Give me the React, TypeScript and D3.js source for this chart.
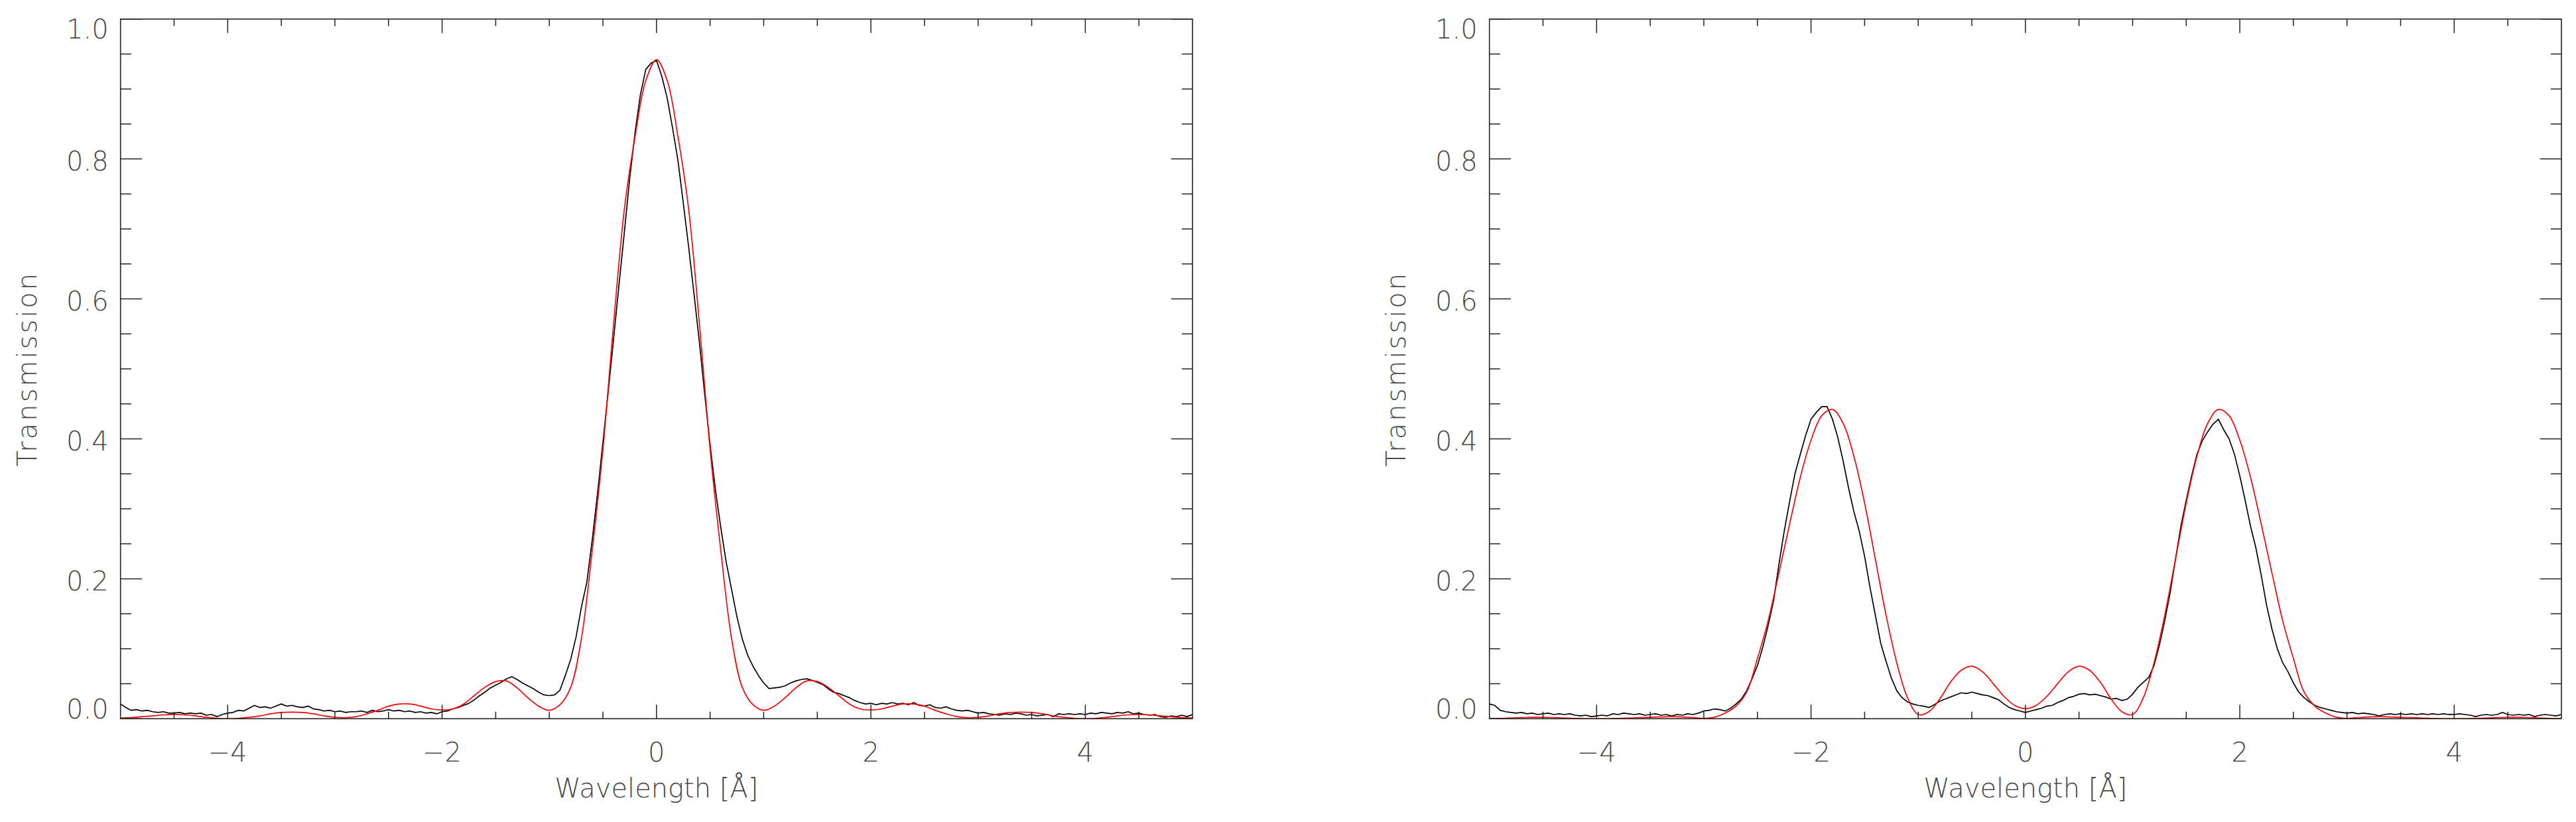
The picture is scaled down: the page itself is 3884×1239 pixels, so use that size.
import React from 'react';
import * as d3 from 'd3';

const W = 3884;
const H = 1239;

const X_DOMAIN: [number, number] = [-5, 5];
const Y_DOMAIN: [number, number] = [0, 1];
const X_MAJOR = [-4, -2, 0, 2, 4];
const X_MAJOR_LABELS = ['\u22124', '\u22122', '0', '2', '4'];
const Y_MAJOR = [0, 0.2, 0.4, 0.6, 0.8, 1.0];
const Y_MAJOR_LABELS = ['0.0', '0.2', '0.4', '0.6', '0.8', '1.0'];
const X_MINOR_STEP = 0.5;
const Y_MINOR_STEP = 0.05;
const X_TITLE = 'Wavelength [\u00C5]';
const Y_TITLE = 'Transmission';

// measured profile: sampled every 0.05 Å from -5 to 5
const MEAS_STEP = 0.05;
// fitted profile: sampled every 0.1 Å from -5 to 5
const FIT_STEP = 0.1;

const LEFT_MEASURED = [
  0.021, 0.016, 0.012, 0.013, 0.011, 0.012, 0.010, 0.009, 0.010, 0.008,
  0.008, 0.009, 0.007, 0.008, 0.007, 0.008, 0.005, 0.006, 0.003, 0.006,
  0.008, 0.009, 0.012, 0.011, 0.015, 0.019, 0.016, 0.017, 0.015, 0.018,
  0.021, 0.018, 0.019, 0.017, 0.016, 0.018, 0.014, 0.013, 0.011, 0.012,
  0.010, 0.011, 0.009, 0.010, 0.010, 0.011, 0.009, 0.012, 0.010, 0.011,
  0.013, 0.011, 0.012, 0.010, 0.011, 0.009, 0.010, 0.008, 0.009, 0.007,
  0.010, 0.011, 0.014, 0.016, 0.019, 0.022, 0.027, 0.033, 0.038, 0.044,
  0.048, 0.052, 0.057, 0.060, 0.056, 0.051, 0.047, 0.043, 0.038, 0.034,
  0.033, 0.034, 0.041, 0.062, 0.085, 0.117, 0.160, 0.195, 0.255, 0.322,
  0.395, 0.468, 0.543, 0.620, 0.695, 0.772, 0.838, 0.892, 0.928, 0.937,
  0.941, 0.918, 0.887, 0.844, 0.798, 0.737, 0.674, 0.607, 0.538, 0.463,
  0.391, 0.327, 0.273, 0.224, 0.185, 0.146, 0.114, 0.091, 0.075, 0.062,
  0.051, 0.043, 0.044, 0.045, 0.047, 0.051, 0.054, 0.056, 0.057, 0.055,
  0.052, 0.049, 0.043, 0.038, 0.036, 0.033, 0.030, 0.026, 0.023, 0.021,
  0.022, 0.020, 0.022, 0.021, 0.023, 0.021, 0.022, 0.020, 0.023, 0.019,
  0.018, 0.020, 0.016, 0.015, 0.017, 0.014, 0.012, 0.011, 0.012, 0.010,
  0.008, 0.009, 0.007, 0.006, 0.005, 0.007, 0.006, 0.008, 0.007, 0.005,
  0.006, 0.004, 0.005, 0.006, 0.003, 0.007, 0.006, 0.007, 0.006, 0.007,
  0.006, 0.008, 0.007, 0.009, 0.008, 0.007, 0.009, 0.008, 0.010, 0.007,
  0.008, 0.006, 0.005, 0.006, 0.003, 0.002, 0.004, 0.003, 0.005, 0.003,
  0.006,
];

const LEFT_FIT = [
  0.001, 0.0015, 0.003, 0.004, 0.0055, 0.006, 0.0055, 0.004, 0.002, 0.0005,
  0.0, 0.0005, 0.002, 0.004, 0.007, 0.009, 0.0095, 0.009, 0.007, 0.004,
  0.002, 0.0015, 0.003, 0.007, 0.012, 0.018, 0.021, 0.021, 0.018, 0.014,
  0.0125, 0.014, 0.021, 0.033, 0.045, 0.053, 0.054, 0.044, 0.030, 0.018,
  0.012, 0.020, 0.045, 0.115, 0.240, 0.385, 0.565, 0.728, 0.832, 0.912,
  0.942, 0.912, 0.832, 0.728, 0.565, 0.385, 0.240, 0.115, 0.045, 0.020,
  0.012, 0.018, 0.030, 0.044, 0.054, 0.053, 0.045, 0.033, 0.021, 0.014,
  0.0125, 0.014, 0.018, 0.021, 0.021, 0.018, 0.012, 0.007, 0.003, 0.0015,
  0.002, 0.004, 0.007, 0.009, 0.0095, 0.009, 0.007, 0.004, 0.002, 0.0005,
  0.0, 0.0005, 0.002, 0.004, 0.0055, 0.006, 0.0055, 0.004, 0.003, 0.0015,
  0.001,
];

const RIGHT_MEASURED = [
  0.021, 0.019, 0.012, 0.010, 0.009, 0.008, 0.009, 0.007, 0.008, 0.006,
  0.007, 0.008, 0.006, 0.007, 0.006, 0.007, 0.005, 0.004, 0.005, 0.003,
  0.004, 0.005, 0.004, 0.007, 0.006, 0.008, 0.007, 0.006, 0.007, 0.005,
  0.006, 0.007, 0.005, 0.006, 0.004, 0.006, 0.005, 0.007, 0.006, 0.008,
  0.011, 0.012, 0.014, 0.013, 0.011, 0.015, 0.021, 0.028, 0.040, 0.057,
  0.076, 0.102, 0.133, 0.168, 0.220, 0.268, 0.310, 0.350, 0.378, 0.405,
  0.428, 0.438, 0.446, 0.446, 0.428, 0.402, 0.368, 0.330, 0.296, 0.268,
  0.232, 0.188, 0.148, 0.108, 0.082, 0.058, 0.040, 0.030, 0.024, 0.021,
  0.019, 0.018, 0.016, 0.020, 0.025, 0.028, 0.031, 0.034, 0.037, 0.036,
  0.038, 0.036, 0.034, 0.033, 0.030, 0.027, 0.021, 0.016, 0.013, 0.011,
  0.009, 0.011, 0.013, 0.015, 0.018, 0.019, 0.023, 0.026, 0.030, 0.032,
  0.035, 0.036, 0.034, 0.035, 0.033, 0.031, 0.028, 0.029, 0.026, 0.028,
  0.035, 0.045, 0.052, 0.059, 0.076, 0.105, 0.140, 0.180, 0.228, 0.275,
  0.312, 0.347, 0.378, 0.397, 0.410, 0.421, 0.428, 0.413, 0.400, 0.378,
  0.347, 0.312, 0.275, 0.244, 0.205, 0.162, 0.128, 0.100, 0.080, 0.067,
  0.051, 0.038, 0.030, 0.024, 0.019, 0.016, 0.014, 0.012, 0.010, 0.009,
  0.008, 0.009, 0.007, 0.008, 0.007, 0.006, 0.004, 0.006, 0.007, 0.006,
  0.007, 0.006, 0.007, 0.006, 0.007, 0.006, 0.007, 0.006, 0.007, 0.006,
  0.006, 0.007, 0.006, 0.005, 0.003, 0.005, 0.006, 0.005, 0.006, 0.009,
  0.006, 0.005, 0.006, 0.005, 0.006, 0.003, 0.005, 0.006, 0.005, 0.004,
  0.006,
];

const RIGHT_FIT = [
  0.0, 0.0005, 0.001, 0.0015, 0.002, 0.002, 0.0015, 0.001, 0.0005, 0.0,
  0.0, 0.0, 0.0005, 0.001, 0.0015, 0.002, 0.0025, 0.003, 0.0025, 0.0015,
  0.0005, 0.002, 0.008, 0.018, 0.038, 0.086, 0.140, 0.208, 0.278, 0.345,
  0.398, 0.433, 0.442, 0.422, 0.375, 0.308, 0.228, 0.148, 0.080, 0.030,
  0.006, 0.010, 0.028, 0.052, 0.069, 0.075, 0.067, 0.050, 0.032, 0.019,
  0.0144, 0.019, 0.032, 0.050, 0.067, 0.075, 0.069, 0.052, 0.028, 0.010,
  0.006, 0.030, 0.080, 0.148, 0.228, 0.308, 0.375, 0.422, 0.442, 0.433,
  0.398, 0.345, 0.278, 0.208, 0.140, 0.086, 0.038, 0.018, 0.008, 0.002,
  0.0005, 0.0015, 0.0025, 0.003, 0.0025, 0.002, 0.0015, 0.001, 0.0005, 0.0,
  0.0, 0.0, 0.0005, 0.001, 0.0015, 0.002, 0.002, 0.0015, 0.001, 0.0005,
  0.0,
];

const toPoints = (vals: number[], step: number) =>
  vals.map((v, i) => [X_DOMAIN[0] + i * step, v] as [number, number]);

const PANEL_TOP = 28.7;
const PANEL_BOTTOM = 1083.3;
const PANEL_WIDTH = 1616.3;
const PANELS = [
  { id: 'a', left: 181.7, measured: LEFT_MEASURED, fit: LEFT_FIT },
  { id: 'b', left: 2245.7, measured: RIGHT_MEASURED, fit: RIGHT_FIT },
];

const FONT = '"DejaVu Sans", "Liberation Sans", sans-serif';
const TEXT_FILL = '#4a4a4a';
const FRAME = '#222';

function Panel({ p }: { p: typeof PANELS[number] }) {
  const left = p.left;
  const right = left + PANEL_WIDTH;
  const top = PANEL_TOP;
  const bottom = PANEL_BOTTOM;
  const x = d3.scaleLinear().domain(X_DOMAIN).range([left, right]);
  const y = d3.scaleLinear().domain(Y_DOMAIN).range([bottom, top]);
  const h = bottom - top;
  const w = right - left;
  const xMajLen = 0.02 * h;
  const xMinLen = 0.01 * h;
  const yMajLen = 0.02 * w;
  const yMinLen = 0.01 * w;

  const xMinor = d3
    .range(X_DOMAIN[0] + X_MINOR_STEP, X_DOMAIN[1] - 1e-6, X_MINOR_STEP)
    .filter((v) => !X_MAJOR.some((m) => Math.abs(m - v) < 1e-6));
  const yMinor = d3
    .range(Y_DOMAIN[0] + Y_MINOR_STEP, Y_DOMAIN[1] - 1e-6, Y_MINOR_STEP)
    .filter((v) => !Y_MAJOR.some((m) => Math.abs(m - v) < 1e-6));

  const measLine = d3
    .line<[number, number]>()
    .x((d) => x(d[0]))
    .y((d) => y(d[1]))
    .curve(d3.curveLinear);
  const fitLine = d3
    .line<[number, number]>()
    .x((d) => x(d[0]))
    .y((d) => y(d[1]))
    .curve(d3.curveCatmullRom.alpha(0.5));

  const clipId = 'clip-' + p.id;
  const ticks: JSX.Element[] = [];
  X_MAJOR.forEach((v, i) => {
    ticks.push(<line key={'xb' + i} x1={x(v)} x2={x(v)} y1={bottom} y2={bottom - xMajLen} />);
    ticks.push(<line key={'xt' + i} x1={x(v)} x2={x(v)} y1={top} y2={top + xMajLen} />);
  });
  xMinor.forEach((v, i) => {
    ticks.push(<line key={'xbm' + i} x1={x(v)} x2={x(v)} y1={bottom} y2={bottom - xMinLen} />);
    ticks.push(<line key={'xtm' + i} x1={x(v)} x2={x(v)} y1={top} y2={top + xMinLen} />);
  });
  Y_MAJOR.forEach((v, i) => {
    ticks.push(<line key={'yl' + i} x1={left} x2={left + yMajLen} y1={y(v)} y2={y(v)} />);
    ticks.push(<line key={'yr' + i} x1={right} x2={right - yMajLen} y1={y(v)} y2={y(v)} />);
  });
  yMinor.forEach((v, i) => {
    ticks.push(<line key={'ylm' + i} x1={left} x2={left + yMinLen} y1={y(v)} y2={y(v)} />);
    ticks.push(<line key={'yrm' + i} x1={right} x2={right - yMinLen} y1={y(v)} y2={y(v)} />);
  });

  return (
    <g>
      <defs>
        <clipPath id={clipId}>
          <rect x={left} y={top} width={w} height={h} />
        </clipPath>
      </defs>
      <g clipPath={`url(#${clipId})`} fill="none">
        <path d={measLine(toPoints(p.measured, MEAS_STEP)) || ''} stroke="#000" strokeWidth={1.7} strokeLinejoin="round" />
        <path d={fitLine(toPoints(p.fit, FIT_STEP)) || ''} stroke="#ff0000" strokeWidth={1.7} />
      </g>
      <g stroke={FRAME} strokeWidth={1.5}>{ticks}</g>
      <rect x={left} y={top} width={w} height={h} fill="none" stroke={FRAME} strokeWidth={1.6} />
      <g fontFamily={FONT} fontSize={40} fontWeight={200} fill={TEXT_FILL}>
        {Y_MAJOR.map((v, i) => {
          const base = Math.min(Math.max(y(v) + 17.7, top + 29.5), bottom);
          return (
            <text key={'yl' + i} x={left - 18} y={base} textAnchor="end">
              {Y_MAJOR_LABELS[i]}
            </text>
          );
        })}
        {X_MAJOR.map((v, i) => (
          <text key={'xl' + i} x={x(v)} y={bottom + 64.4} textAnchor="middle">
            {X_MAJOR_LABELS[i]}
          </text>
        ))}
        <text x={(left + right) / 2} y={1202} textAnchor="middle">
          {X_TITLE}
        </text>
        <text
          transform={`translate(${left - 126.7},${(top + bottom) / 2}) rotate(-90)`}
          textAnchor="middle"
          letterSpacing={3}
        >
          {Y_TITLE}
        </text>
      </g>
    </g>
  );
}

export default function App() {
  return (
    <svg
      width={W}
      height={H}
      viewBox={`0 0 ${W} ${H}`}
      style={{ position: 'absolute', left: 0, top: 0, background: '#fff' }}
    >
      <rect x={0} y={0} width={W} height={H} fill="#fff" />
      {PANELS.map((p) => (
        <Panel key={p.id} p={p} />
      ))}
    </svg>
  );
}
